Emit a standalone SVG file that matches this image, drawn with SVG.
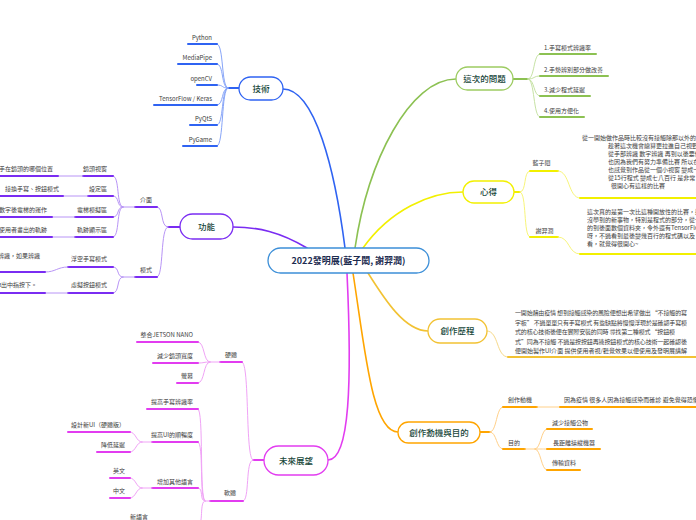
<svg xmlns="http://www.w3.org/2000/svg" width="696" height="520" viewBox="0 0 696 520">
<style>
text{font-family:"Noto Sans CJK TC","Noto Sans",sans-serif}
.t{font-size:6px;fill:#3c3c3c}
.e{text-anchor:end}
.m{text-anchor:middle}
.nt{font-size:8.5px;fill:#17473a;text-anchor:middle;font-weight:500}
.node{fill:#fff;stroke-width:1.3}
path,line{fill:none;stroke-linecap:round}
.bu{stroke:#2f63f2;stroke-width:2}.bc{stroke:#86a4f8;stroke-width:1}
.pu{stroke:#7a2cf2;stroke-width:2}.pc{stroke:#b894f6;stroke-width:1}
.gu{stroke:#8cc152;stroke-width:2}.gc{stroke:#c6e2a4;stroke-width:1}
.yu{stroke:#f2f000;stroke-width:2}.yc{stroke:#f8f57a;stroke-width:1}
.ou{stroke:#f2c233;stroke-width:2}.oc{stroke:#f6d98a;stroke-width:1}
.au{stroke:#ffa500;stroke-width:2}.ac{stroke:#ffd089;stroke-width:1}
.mu{stroke:#e23cf0;stroke-width:2}.mc{stroke:#f0a3f6;stroke-width:1}
</style>
<rect width="696" height="520" fill="#fff"/>
<g id="connectors">
<!-- center to topics -->
<path d="M345,248 C335,170 315,89 283,89" stroke="#2f63f2" stroke-width="1.6"/>
<path d="M307,248 C280,232 258,227 233,227" stroke="#7a2cf2" stroke-width="1.6"/>
<path d="M355,248 C368,160 410,79 456,79" stroke="#8cc152" stroke-width="1.6"/>
<path d="M363,248 C390,210 430,192 463,192" stroke="#f2f000" stroke-width="1.6"/>
<path d="M368,273 C385,300 405,331 428,331" stroke="#f2c233" stroke-width="1.6"/>
<path d="M353,273 C365,350 372,432 398,432" stroke="#ffa500" stroke-width="1.6"/>
<path d="M347,273 C352,380 350,460 328,460" stroke="#e23cf0" stroke-width="1.6"/>
<!-- 技術 -->
<line x1="239" y1="88" x2="228" y2="88" class="bu"/>
<path class="bc" d="M228,88 C221,88 224,44 217,44"/>
<path class="bc" d="M228,88 C221,88 224,64 217,64"/>
<path class="bc" d="M228,88 C221,88 224,85 217,85"/>
<path class="bc" d="M228,88 C221,88 224,105 217,105"/>
<path class="bc" d="M228,88 C221,88 224,125 217,125"/>
<path class="bc" d="M228,88 C221,88 224,146 217,146"/>
<line class="bu" x1="188" y1="44" x2="217" y2="44"/>
<line class="bu" x1="178" y1="64" x2="217" y2="64"/>
<line class="bu" x1="197" y1="85" x2="217" y2="85"/>
<line class="bu" x1="154" y1="105" x2="217" y2="105"/>
<line class="bu" x1="190" y1="125" x2="217" y2="125"/>
<line class="bu" x1="183" y1="146" x2="217" y2="146"/>
<!-- 功能 -->
<line class="pu" x1="180" y1="227" x2="168" y2="227"/>
<path class="pc" d="M168,227 C160,227 164,207 157,207"/>
<path class="pc" d="M168,227 C160,227 164,277 157,277"/>
<line class="pu" x1="135" y1="207" x2="157" y2="207"/>
<line class="pu" x1="135" y1="277" x2="157" y2="277"/>
<line class="pc" x1="135" y1="207" x2="123" y2="207"/>
<line class="pc" x1="135" y1="277" x2="123" y2="277"/>
<path class="pc" d="M123,207 C116,207 120,176 113,176"/>
<path class="pc" d="M123,207 C116,207 120,196 113,196"/>
<path class="pc" d="M123,207 C116,207 120,217 113,217"/>
<path class="pc" d="M123,207 C116,207 120,237 113,237"/>
<path class="pc" d="M123,277 C116,277 120,267 113,267"/>
<path class="pc" d="M123,277 C116,277 120,293 113,293"/>
<line class="pu" x1="83" y1="176" x2="113" y2="176"/>
<line class="pu" x1="88" y1="196" x2="113" y2="196"/>
<line class="pu" x1="75" y1="217" x2="113" y2="217"/>
<line class="pu" x1="75" y1="237" x2="113" y2="237"/>
<line class="pu" x1="68" y1="267" x2="113" y2="267"/>
<line class="pu" x1="68" y1="293" x2="113" y2="293"/>
<line class="pc" x1="58" y1="176" x2="83" y2="176"/>
<line class="pc" x1="63" y1="196" x2="88" y2="196"/>
<line class="pc" x1="52" y1="217" x2="75" y2="217"/>
<line class="pc" x1="52" y1="237" x2="75" y2="237"/>
<path class="pc" d="M45,272 C56,272 57,267 68,267"/>
<line class="pc" x1="45" y1="293" x2="68" y2="293"/>
<line class="pu" x1="0" y1="176" x2="58" y2="176"/>
<line class="pu" x1="0" y1="196" x2="63" y2="196"/>
<line class="pu" x1="0" y1="217" x2="52" y2="217"/>
<line class="pu" x1="0" y1="237" x2="52" y2="237"/>
<line class="pu" x1="0" y1="272" x2="45" y2="272"/>
<line class="pu" x1="0" y1="293" x2="45" y2="293"/>
<!-- 這次的問題 -->
<line class="gu" x1="513" y1="79" x2="528" y2="79"/>
<path class="gc" d="M528,79 C535,79 533,54 540,54"/>
<path class="gc" d="M528,79 C535,79 533,76 540,76"/>
<path class="gc" d="M528,79 C535,79 533,96 540,96"/>
<path class="gc" d="M528,79 C535,79 533,117 540,117"/>
<line class="gu" x1="540" y1="54" x2="596" y2="54"/>
<line class="gu" x1="540" y1="76" x2="608" y2="76"/>
<line class="gu" x1="540" y1="96" x2="590" y2="96"/>
<line class="gu" x1="540" y1="117" x2="584" y2="117"/>
<!-- 心得 -->
<line class="yu" x1="514" y1="192" x2="520" y2="192"/>
<path class="yc" d="M520,192 C527,192 523,171 530,171"/>
<path class="yc" d="M520,192 C527,192 523,237 530,237"/>
<line class="yu" x1="530" y1="171" x2="558" y2="171"/>
<line class="yu" x1="530" y1="237" x2="558" y2="237"/>
<path class="yc" d="M558,171 C570,171 568,198 580,198"/>
<path class="yc" d="M558,237 C570,237 568,254 580,254"/>
<line class="yu" x1="580" y1="198" x2="696" y2="198"/>
<line class="yu" x1="580" y1="254" x2="696" y2="254"/>
<!-- 創作歷程 -->
<path class="oc" d="M487,331 C499,331 496,357 508,357"/>
<line class="ou" x1="508" y1="357" x2="696" y2="357"/>
<!-- 創作動機與目的 -->
<line class="au" x1="480" y1="432" x2="490" y2="432"/>
<path class="ac" d="M490,432 C497,432 496,407 503,407"/>
<path class="ac" d="M490,432 C497,432 496,449 503,449"/>
<line class="au" x1="503" y1="407" x2="537" y2="407"/>
<line class="au" x1="503" y1="449" x2="525" y2="449"/>
<line class="ac" x1="537" y1="407" x2="560" y2="407"/>
<line class="au" x1="560" y1="407" x2="696" y2="407"/>
<line class="ac" x1="525" y1="449" x2="535" y2="449"/>
<path class="ac" d="M535,449 C541,449 541,429 547,429"/>
<path class="ac" d="M535,449 C541,449 541,449 547,449"/>
<path class="ac" d="M535,449 C541,449 541,470 547,470"/>
<line class="au" x1="547" y1="429" x2="592" y2="429"/>
<line class="au" x1="547" y1="449" x2="600" y2="449"/>
<line class="au" x1="547" y1="470" x2="580" y2="470"/>
<!-- 未來展望 -->
<line class="mu" x1="264" y1="460" x2="253" y2="460"/>
<path class="mc" d="M253,460 C245,460 250,362 242,362"/>
<path class="mc" d="M253,460 C245,460 250,501 243,501"/>
<line class="mu" x1="220" y1="362" x2="242" y2="362"/>
<line class="mu" x1="210" y1="501" x2="243" y2="501"/>
<line class="mc" x1="220" y1="362" x2="210" y2="362"/>
<path class="mc" d="M210,362 C203,362 205,342 198,342"/>
<path class="mc" d="M210,362 C203,362 205,363 198,363"/>
<path class="mc" d="M210,362 C203,362 205,383 198,383"/>
<line class="mu" x1="137" y1="342" x2="198" y2="342"/>
<line class="mu" x1="153" y1="363" x2="198" y2="363"/>
<line class="mu" x1="177" y1="383" x2="198" y2="383"/>
<line class="mc" x1="210" y1="501" x2="205" y2="501"/>
<path class="mc" d="M205,501 C199,501 204,409 198,409"/>
<path class="mc" d="M205,501 C199,501 204,442 198,442"/>
<path class="mc" d="M205,501 C199,501 204,488 198,488"/>
<path class="mc" d="M205,501 C199,501 204,526 198,526"/>
<line class="mu" x1="147" y1="409" x2="198" y2="409"/>
<line class="mu" x1="152" y1="442" x2="198" y2="442"/>
<line class="mu" x1="152" y1="488" x2="198" y2="488"/>
<line class="mc" x1="152" y1="442" x2="142" y2="442"/>
<line class="mc" x1="152" y1="488" x2="142" y2="488"/>
<path class="mc" d="M142,442 C136,442 136,432 130,432"/>
<path class="mc" d="M142,442 C136,442 136,452 130,452"/>
<path class="mc" d="M142,488 C136,488 136,478 130,478"/>
<path class="mc" d="M142,488 C136,488 136,498 130,498"/>
<line class="mu" x1="68" y1="432" x2="130" y2="432"/>
<line class="mu" x1="97" y1="452" x2="130" y2="452"/>
<line class="mu" x1="110" y1="478" x2="130" y2="478"/>
<line class="mu" x1="110" y1="498" x2="130" y2="498"/>
</g>
<g id="center">
<rect class="node" x="268" y="248" width="161" height="25" rx="12.5" stroke="#3c8fd8"/>
<text x="348.5" y="264" class="m" style="font-size:9px;font-weight:700;fill:#1c2b4f">2022發明展(藍子閎, 謝羿潤)</text>
</g>
<g id="tech">
<rect class="node" x="239" y="77" width="44" height="23" rx="11.5" stroke="#2f63f2"/>
<text class="nt" x="261" y="91.5">技術</text>
<text class="t e" x="212" y="39.5">Python</text>
<text class="t e" x="212" y="59.5">MediaPipe</text>
<text class="t e" x="212" y="80.5">openCV</text>
<text class="t e" x="212" y="100.5">TensorFlow / Keras</text>
<text class="t e" x="212" y="120.5">PyQt5</text>
<text class="t e" x="212" y="141.5">PyGame</text>
</g>
<g id="func">
<rect class="node" x="180" y="214" width="53" height="25" rx="12.5" stroke="#7a2cf2"/>
<text class="nt" x="206.5" y="230">功能</text>
<text class="t m" x="146" y="201.5">介面</text>
<text class="t m" x="146" y="271.5">模式</text>
<text class="t e" x="107" y="170.5">鏡頭視窗</text>
<text class="t e" x="107" y="190.5">設定區</text>
<text class="t e" x="107" y="211.5">電梯模擬區</text>
<text class="t e" x="107" y="231.5">軌跡顯示區</text>
<text class="t e" x="107" y="260.5">浮空手寫模式</text>
<text class="t e" x="107" y="286.5">虛擬按鈕模式</text>
<text class="t e" x="53" y="170.5">手在鏡頭的哪個位置</text>
<text class="t" x="5" y="190.5">接換手寫、按鈕模式</text>
<text class="t e" x="47" y="211.5">數字後電梯的運作</text>
<text class="t e" x="47" y="231.5">使用者畫出的軌跡</text>
<text class="t e" x="40" y="257.5">辨識，如果辨識</text>
<text class="t e" x="37" y="286.5">伸出中指按下。</text>
</g>
<g id="problems">
<rect class="node" x="456" y="67" width="57" height="23" rx="11.5" stroke="#9dcc62"/>
<text class="nt" x="484.5" y="82">這次的問題</text>
<text class="t" x="544" y="49.5">1.手寫模式辨識率</text>
<text class="t" x="544" y="71.5">2.手勢辨別部分做改善</text>
<text class="t" x="544" y="91.5">3.減少程式延遲</text>
<text class="t" x="544" y="112.5">4.使用方便化</text>
</g>
<g id="thoughts">
<rect class="node" x="463" y="181" width="51" height="22" rx="11" stroke="#f2f000"/>
<text class="nt" x="488.5" y="195">心得</text>
<text class="t m" x="541.5" y="164.5">藍子閎</text>
<text class="t m" x="544.5" y="232.5">謝羿潤</text>
<text class="t" x="582" y="140">從一開始做作品時比較沒有接觸除那以外的東西</text>
<text class="t" x="608" y="148">趁著這次機會總算更拉進自己視野</text>
<text class="t" x="608" y="155.5">從手部辨識 數字辨識 再到以後要做</text>
<text class="t" x="608" y="163.5">也因為我們有努力準備比賽 所以在</text>
<text class="t" x="608" y="171.5">也感覺到作品從一個小視窗 變成一</text>
<text class="t" x="608" y="179.5">從15行程式 變成七八百行 是非常</text>
<text class="t" x="611" y="187.5">很開心有這樣的比賽</text>
<text class="t" x="587" y="214">這次真的是第一次比這種開放性的比賽，這</text>
<text class="t" x="587" y="221.5">沒學到的新事物，特別是程式的部分，從一</text>
<text class="t" x="587" y="229.5">的到後面數個資料夾，令外還有TensorFlow</text>
<text class="t" x="587" y="237.5">呀，不過看到最後變幾百行的程式碼以及</text>
<text class="t" x="587" y="245.5">看，就覺得很開心~</text>
</g>
<g id="process">
<rect class="node" x="428" y="319" width="59" height="24" rx="12" stroke="#f2c233"/>
<text class="nt" x="457.5" y="334">創作歷程</text>
<text class="t" x="515" y="315" textLength="172">一開始藉由疫情 想到接觸感染的風險便想出希望做出 “不接觸的寫</text>
<text class="t" x="515" y="324.5" textLength="172">字板” 不過單單只有手寫模式 有些缺點將慢慢浮現於是確認手寫模</text>
<text class="t" x="515" y="334" textLength="160">式的核心技術後便在實際安裝的同時 尋找第二種模式 “按鈕模</text>
<text class="t" x="515" y="343.5" textLength="172">式”同為不接觸 不過是按按鈕再連按鈕模式的核心技術一起確認後</text>
<text class="t" x="515" y="352.5" textLength="172">便開始製作UI介面 提供使用者視/聽覺效果以便使用及發明展講解</text>
</g>
<g id="motivation">
<rect class="node" x="398" y="422" width="82" height="21" rx="10.5" stroke="#ffa500"/>
<text class="nt" x="439" y="435.5">創作動機與目的</text>
<text class="t" x="508" y="401.5">創作動機</text>
<text class="t" x="508" y="444.5">目的</text>
<text class="t" x="564" y="401.5">因為疫情 很多人因為接觸感染而確診 避免覺得恐懼</text>
<text class="t" x="552" y="424.5">減少接觸公物</text>
<text class="t" x="553" y="444.5">長距離操縱機器</text>
<text class="t" x="552" y="464.5">傳輸資料</text>
</g>
<g id="future">
<rect class="node" x="264" y="446" width="64" height="29" rx="14.5" stroke="#e23cf0"/>
<text class="nt" x="296" y="463.5">未來展望</text>
<text class="t m" x="231" y="356.5">硬體</text>
<text class="t m" x="230" y="494.5">軟體</text>
<text class="t e" x="193" y="336.5">整合JETSON NANO</text>
<text class="t e" x="193" y="357.5">減少鏡頭寬度</text>
<text class="t e" x="193" y="377.5">螢幕</text>
<text class="t e" x="193" y="403.5">提高手寫辨識率</text>
<text class="t e" x="193" y="436.5">提高UI的順暢度</text>
<text class="t e" x="193" y="483.5">增加其他語言</text>
<text class="t e" x="125" y="426.5">設計新UI（硬體版）</text>
<text class="t e" x="125" y="446.5">降低延遲</text>
<text class="t e" x="125" y="472.5">英文</text>
<text class="t e" x="125" y="492.5">中文</text>
<text class="t m" x="139" y="518.5">新語言</text>
</g>
</svg>
